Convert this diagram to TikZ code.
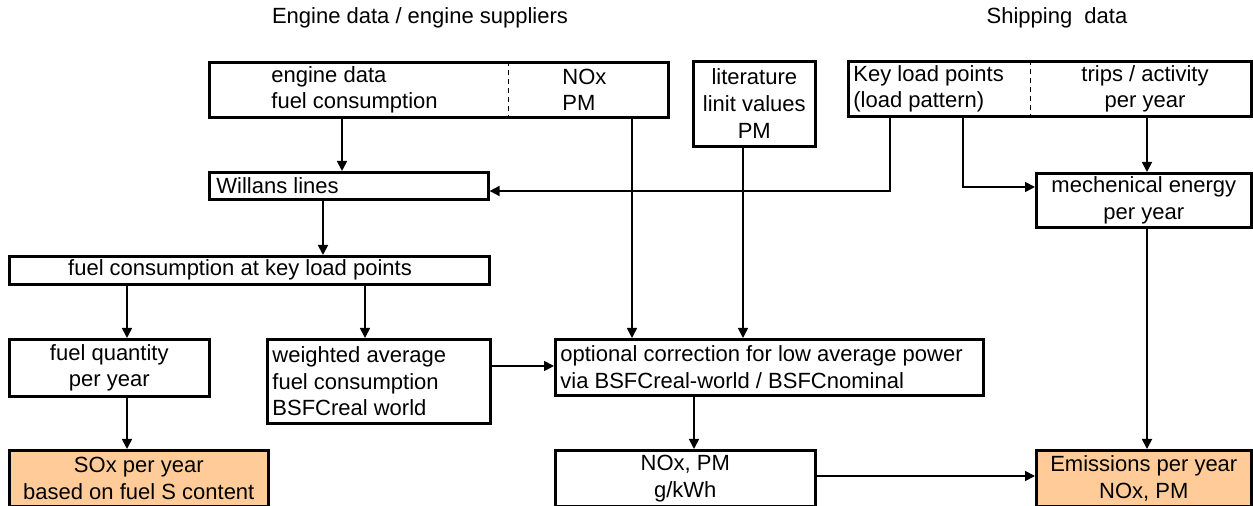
\documentclass[tikz,border=0pt]{standalone}
\usepackage{fontspec}
\setmainfont{Liberation Sans}
\usetikzlibrary{arrows.meta}
\definecolor{peach}{HTML}{FFCC99}
\begin{document}
\begin{tikzpicture}[x=0.5pt,y=-0.5pt,
  font=\fontsize{11}{13.4}\selectfont,
  box/.style={draw, line width=1.3pt, inner sep=0pt, anchor=north west, align=center},
  hot/.style={box, fill=peach},
  txt/.style={inner sep=0pt, align=left, anchor=west},
  arr/.style={line width=0.85pt, -{Triangle[length=5pt,width=5pt]}},
  ln/.style={line width=0.85pt},
  divider/.style={line width=0.5pt, dash pattern=on 2.5pt off 2pt}]
\useasboundingbox (0,0) rectangle (1253,506);

% titles
\node[inner sep=0pt] (t1) at (420,18) {Engine data / engine suppliers};
\node[inner sep=0pt] (t2) at (1057,18) {Shipping\ \ data};

% boxes
\node[box, minimum width=229.5pt, minimum height=27.5pt] (eng) at (208,61) {};
\node[box, minimum width=61pt, minimum height=42.5pt] (lit) at (692,60) {literature\\linit values\\PM};
\node[box, minimum width=201.5pt, minimum height=27.5pt] (key) at (847,60) {};
\node[box, minimum width=139.5pt, minimum height=13.5pt] (will) at (208,171) {};
\node[box, minimum width=107.5pt, minimum height=27pt] (mech) at (1035,172) {mechenical energy\\per year};
\node[box, minimum width=240pt, minimum height=14pt] (fck) at (8,255) {};
\node[box, minimum width=100pt, minimum height=28.5pt] (fq) at (8,338) {fuel quantity\\per year};
\node[box, minimum width=111.5pt, minimum height=42pt] (wa) at (266,338) {};
\node[box, minimum width=214pt, minimum height=28pt] (opt) at (554,338) {};
\node[hot, minimum width=129.5pt, minimum height=28pt] (sox) at (8,449) {SOx per year\\based on fuel S content};
\node[box, minimum width=130pt, minimum height=28pt] (nox) at (554,449) {NOx, PM\\g/kWh};
\node[hot, minimum width=107.5pt, minimum height=28pt] (emi) at (1035,449) {Emissions per year\\NOx, PM};

% dashed dividers
\draw[divider] (508,0 |- eng.north) -- (508,0 |- eng.south);
\draw[divider] (1030,0 |- key.north) -- (1030,0 |- key.south);

% texts inside boxes
\node[txt] (engtxt) at (271,0 |- eng.west) {engine data\\fuel consumption};
\node[txt] (noxtxt) at (562,0 |- eng.west) {NOx\\PM};
\node[txt] (keytxt) at (853,0 |- key.west) {Key load points\\(load pattern)};
\node[inner sep=0pt, align=center] (triptxt) at (1145,0 |- key.west) {trips / activity\\per year};
\node[txt] (willtxt) at (216,0 |- will.west) {Willans lines};
\node[inner sep=0pt] (fcktxt) at (240,0 |- fck.west) {fuel consumption at key load points};
\node[txt] (watxt) at (272,0 |- wa.west) {weighted average\\fuel consumption\\BSFCreal world};
\node[txt] (opttxt) at (560,0 |- opt.west) {optional correction for low average power\\via BSFCreal-world / BSFCnominal};

% connectors
\draw[arr] (342,0 |- eng.south) -- (342,0 |- will.north);
\draw[arr] (632,0 |- eng.south) -- (632,0 |- opt.north);
\draw[arr] (743,0 |- lit.south) -- (743,0 |- opt.north);
\draw[arr] (890,0 |- key.south) -- (890,191) -- (will.east |- 0,191);
\draw[arr] (963,0 |- key.south) -- (963,187) -- (mech.west |- 0,187);
\draw[arr] (1147,0 |- key.south) -- (1147,0 |- mech.north);
\draw[arr] (323,0 |- will.south) -- (323,0 |- fck.north);
\draw[arr] (127,0 |- fck.south) -- (127,0 |- fq.north);
\draw[arr] (365,0 |- fck.south) -- (365,0 |- wa.north);
\draw[arr] (127,0 |- fq.south) -- (127,0 |- sox.north);
\draw[arr] (wa.east |- 0,366) -- (opt.west |- 0,366);
\draw[arr] (694,0 |- opt.south) -- (694,0 |- nox.north);
\draw[arr] (nox.east |- 0,476) -- (emi.west |- 0,476);
\draw[arr] (1147,0 |- mech.south) -- (1147,0 |- emi.north);
\end{tikzpicture}
\end{document}
